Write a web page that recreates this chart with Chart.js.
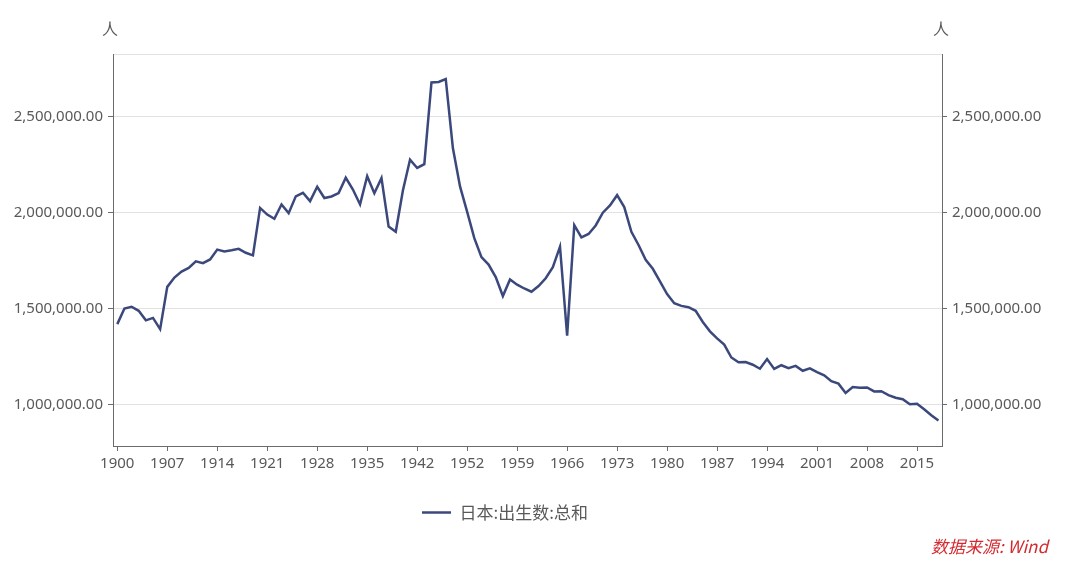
<!DOCTYPE html>
<html>
<head>
<meta charset="utf-8">
<script src="https://cdn.jsdelivr.net/npm/chart.js@4.4.1/dist/chart.umd.min.js"></script>
<style>
  html, body { margin: 0; padding: 0; background: #ffffff; }
  #wrap { position: relative; width: 1080px; height: 561px; }
  canvas { display: block; }
</style>
</head>
<body>
<div id="wrap"><canvas id="c" width="1080" height="561"></canvas></div>
<script>
// Categories (years; 1944-1946 have no data in the source)
const years = [
  1900,1901,1902,1903,1904,1905,1906,1907,1908,1909,
  1910,1911,1912,1913,1914,1915,1916,1917,1918,1919,
  1920,1921,1922,1923,1924,1925,1926,1927,1928,1929,
  1930,1931,1932,1933,1934,1935,1936,1937,1938,1939,
  1940,1941,1942,1943,
  1947,1948,1949,
  1950,1951,1952,1953,1954,1955,1956,1957,1958,1959,
  1960,1961,1962,1963,1964,1965,1966,1967,1968,1969,
  1970,1971,1972,1973,1974,1975,1976,1977,1978,1979,
  1980,1981,1982,1983,1984,1985,1986,1987,1988,1989,
  1990,1991,1992,1993,1994,1995,1996,1997,1998,1999,
  2000,2001,2002,2003,2004,2005,2006,2007,2008,2009,
  2010,2011,2012,2013,2014,2015,2016,2017,2018
];

// Series: 日本:出生数:总和 (persons)
const births = [
  1420534,1501591,1510835,1489816,1440371,1452770,1394295,1614472,1662815,1693850,
  1712857,1747803,1737674,1757441,1808402,1799326,1804822,1812413,1791992,1778685,
  2025564,1990876,1969314,2043297,1998520,2086091,2104405,2060737,2135852,2077026,
  2085101,2102784,2182742,2121253,2043783,2190704,2101969,2180734,1928321,1901573,
  2115867,2277283,2233660,2253535,
  2678792,2681624,2696638,
  2337507,2137689,2005162,1868040,1769580,1730692,1665278,1566713,1653469,1626088,
  1606041,1589372,1618616,1659521,1716761,1823697,1360974,1935647,1871839,1889815,
  1934239,2000973,2038682,2091983,2029989,1901440,1832617,1755100,1708643,1642580,
  1576889,1529455,1515392,1508687,1489780,1431577,1382946,1346658,1314006,1246802,
  1221585,1223245,1208989,1188282,1238328,1187064,1206555,1191665,1203147,1177669,
  1190547,1170662,1153855,1123610,1110721,1062530,1092674,1089818,1091156,1070035,
  1071304,1050806,1037231,1029816,1003539,1005677,976978,946065,918400
];

// Tick labels
const xTickYears = [1900,1907,1914,1921,1928,1935,1942,1952,1959,1966,1973,1980,1987,1994,2001,2008,2015];
const yTickValues = [1000000,1500000,2000000,2500000];
const seriesName = '日本:出生数:总和';
const unitLabel = '人';
const sourceText = '数据来源: Wind';

const FONT = '"Noto Sans", "Noto Sans CJK SC", sans-serif';
const TEXT = '#595959';
const AXIS = '#6b6b6b';
const GRID = '#e2e2e2';
const LINE = '#3b487c';

const points = births.map((v, i) => ({ x: i, y: v }));
const xTickIdx = xTickYears.map(y => years.indexOf(y));

const fmt = v => Number(v).toLocaleString('en-US', { minimumFractionDigits: 2, maximumFractionDigits: 2 });

const extras = {
  id: 'extras',
  afterLayout(chart) {
    // shift the legend block slightly left, as in the reference
    const lg = chart.legend;
    if (lg) { lg.left -= 35; lg.right -= 35; }
  },
  afterDraw(chart) {
    const { ctx } = chart;
    const yl = chart.scales.y, yr = chart.scales.y2;
    ctx.save();
    ctx.fillStyle = TEXT;
    ctx.font = '16px "Noto Sans CJK SC", sans-serif';
    ctx.textAlign = 'center';
    ctx.textBaseline = 'middle';
    ctx.fillText(unitLabel, yl.right - 3, 29);
    ctx.fillText(unitLabel, yr.left - 1, 29);
    ctx.fillStyle = '#d42a2f';
    ctx.font = 'italic 17px "Noto Sans CJK SC", sans-serif';
    ctx.textAlign = 'right';
    ctx.fillText(sourceText, 1048, 547);
    ctx.restore();
  }
};

new Chart(document.getElementById('c'), {
  type: 'line',
  data: {
    datasets: [{
      label: seriesName,
      data: points,
      borderColor: LINE,
      backgroundColor: LINE,
      borderWidth: 2.5,
      pointRadius: 0,
      tension: 0,
      fill: false,
      yAxisID: 'y',
      xAxisID: 'x'
    }]
  },
  options: {
    responsive: false,
    animation: false,
    devicePixelRatio: 1,
    layout: { padding: { left: 0, right: 0, top: 54, bottom: 30 } },
    plugins: {
      tooltip: { enabled: false },
      legend: {
        position: 'bottom',
        labels: {
          usePointStyle: true,
          pointStyle: 'line',
          pointStyleWidth: 29,
          boxHeight: 17,
          color: TEXT,
          font: { family: '"Noto Sans CJK SC", sans-serif', size: 17 },
          padding: 9
        }
      }
    },
    scales: {
      x: {
        type: 'linear',
        position: 'bottom',
        min: -0.6,
        max: 115.5,
        afterBuildTicks: s => { s.ticks = xTickIdx.map(v => ({ value: v })); },
        afterFit: s => { s.height = 49; },
        ticks: {
          color: TEXT,
          font: { family: FONT, size: 15 },
          padding: 4,
          maxRotation: 0,
          autoSkip: false,
          callback: v => String(years[v])
        },
        grid: { drawOnChartArea: false, drawTicks: true, tickLength: 5, tickColor: AXIS },
        border: { color: AXIS, width: 1 }
      },
      xTop: {
        type: 'linear',
        position: 'top',
        min: -0.6,
        max: 115.5,
        ticks: { display: false },
        grid: { display: false, drawTicks: false },
        border: { color: GRID, width: 1 },
        afterFit: s => { s.height = 0; }
      },
      y: {
        type: 'linear',
        position: 'left',
        min: 786000,
        max: 2827000,
        afterBuildTicks: s => { s.ticks = yTickValues.map(v => ({ value: v })); },
        afterFit: s => { s.width = 113; },
        ticks: { color: TEXT, font: { family: FONT, size: 15 }, padding: 5, callback: v => fmt(v) },
        grid: { color: GRID, lineWidth: 1, drawTicks: true, tickLength: 5, tickColor: AXIS },
        border: { color: AXIS, width: 1 }
      },
      y2: {
        type: 'linear',
        position: 'right',
        min: 786000,
        max: 2827000,
        afterBuildTicks: s => { s.ticks = yTickValues.map(v => ({ value: v })); },
        afterFit: s => { s.width = 138; },
        ticks: { color: TEXT, font: { family: FONT, size: 15 }, padding: 5, callback: v => fmt(v) },
        grid: { drawOnChartArea: false, drawTicks: true, tickLength: 5, tickColor: AXIS },
        border: { color: AXIS, width: 1 }
      }
    }
  },
  plugins: [extras]
});
</script>
</body>
</html>
